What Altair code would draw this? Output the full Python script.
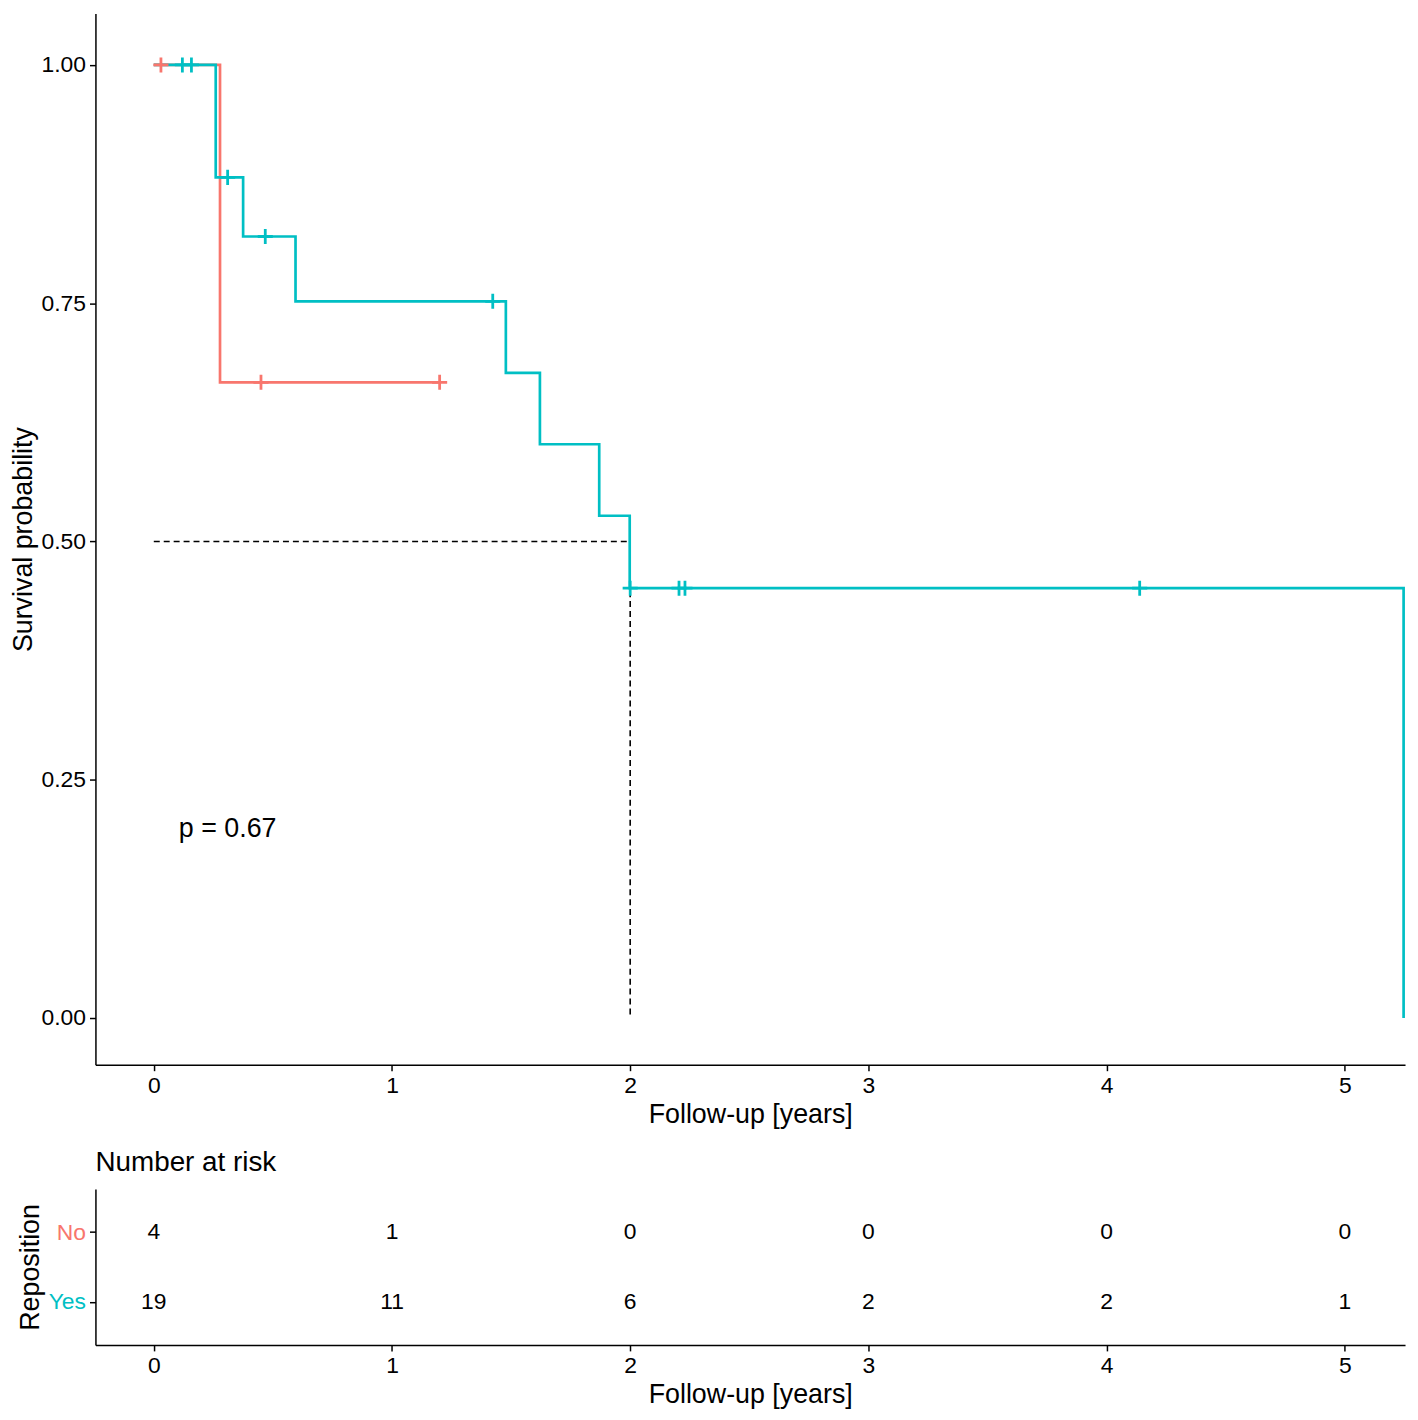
import altair as alt
import pandas as pd

# ---- data ----
groups = ["No", "Yes"]
colors = ["#F8766D", "#00BFC4"]

no_times = [0.0, 0.278, 1.20]
no_surv = [1.0, 0.667, 0.667]
yes_times = [0.0, 0.26, 0.375, 0.595, 1.478, 1.621, 1.87, 1.998, 5.247]
yes_surv = [1.0, 0.882, 0.820, 0.752, 0.677, 0.602, 0.527, 0.451, 0.0]

no_cens_t = [0.03, 0.45, 1.20]
no_cens_s = [1.0, 0.667, 0.667]
yes_cens_t = [0.12, 0.158, 0.31, 0.468, 1.423, 2.0, 2.205, 2.23, 4.139]
yes_cens_s = [1.0, 1.0, 0.882, 0.820, 0.752, 0.451, 0.451, 0.451, 0.451]

risk_times = [0, 1, 2, 3, 4, 5]
risk_no = [4, 1, 0, 0, 0, 0]
risk_yes = [19, 11, 6, 2, 2, 1]

median_time = 2.0
median_surv = 0.5
p_label = "p = 0.67"
p_pos = [0.105, 0.198]

y_ticks = [0.0, 0.25, 0.5, 0.75, 1.0]

# ---- tables ----
curve_df = pd.DataFrame(
    [{"group": "No", "time": t, "surv": s, "i": k} for k, (t, s) in enumerate(zip(no_times, no_surv))]
    + [{"group": "Yes", "time": t, "surv": s, "i": k} for k, (t, s) in enumerate(zip(yes_times, yes_surv))]
)
cens_df = pd.DataFrame(
    [{"group": "No", "time": t, "surv": s} for t, s in zip(no_cens_t, no_cens_s)]
    + [{"group": "Yes", "time": t, "surv": s} for t, s in zip(yes_cens_t, yes_cens_s)]
)
median_df = pd.DataFrame([
    {"x": 0.0, "y": median_surv, "x2": median_time, "y2": median_surv},
    {"x": median_time, "y": median_surv, "x2": median_time, "y2": 0.0},
])
p_df = pd.DataFrame([{"x": p_pos[0], "y": p_pos[1], "t": p_label}])
risk_df = pd.DataFrame(
    [{"group": "No", "time": t, "n": n} for t, n in zip(risk_times, risk_no)]
    + [{"group": "Yes", "time": t, "n": n} for t, n in zip(risk_times, risk_yes)]
)

W = 1318
H1 = 1058
H2 = 157

x_scale = alt.Scale(domain=[-0.245, 5.253], nice=False, zero=False)
y_scale = alt.Scale(domain=[-0.049, 1.054], nice=False, zero=False)
color_scale = alt.Scale(domain=groups, range=colors)

x_axis = alt.Axis(values=risk_times, format="d", title="Follow-up [years]")

lines = alt.Chart(curve_df).mark_line(interpolate="step-after", strokeWidth=2.7).encode(
    x=alt.X("time:Q", scale=x_scale, axis=x_axis),
    y=alt.Y("surv:Q", scale=y_scale,
            axis=alt.Axis(values=y_ticks, format=".2f", title="Survival probability")),
    color=alt.Color("group:N", scale=color_scale, legend=None),
    order="i:Q",
)

cens = alt.Chart(cens_df).mark_point(
    shape="M-1,0L1,0M0,-1L0,1", size=230, filled=False, strokeWidth=2.8, opacity=1
).encode(
    x=alt.X("time:Q", scale=x_scale),
    y=alt.Y("surv:Q", scale=y_scale),
    color=alt.Color("group:N", scale=color_scale, legend=None),
)

median = alt.Chart(median_df).mark_rule(color="black", strokeDash=[6, 4], strokeWidth=1.6).encode(
    x=alt.X("x:Q", scale=x_scale), x2="x2:Q",
    y=alt.Y("y:Q", scale=y_scale), y2="y2:Q",
)

ptext = alt.Chart(p_df).mark_text(align="left", baseline="middle", fontSize=27, color="black").encode(
    x=alt.X("x:Q", scale=x_scale), y=alt.Y("y:Q", scale=y_scale), text="t:N"
)

top = alt.layer(median, lines, cens, ptext).properties(width=W, height=H1)

bottom = alt.Chart(risk_df).mark_text(fontSize=23, color="black", baseline="middle").encode(
    x=alt.X("time:Q", scale=x_scale, axis=x_axis),
    y=alt.Y("group:N", scale=alt.Scale(type="point", padding=0.62, domain=groups),
            axis=alt.Axis(title="Reposition",
                          labelColor={"expr": "datum.value == 'No' ? '#F8766D' : '#00BFC4'"})),
    text="n:Q",
).properties(
    width=W, height=H2,
    title=alt.TitleParams("Number at risk", anchor="start", frame="group",
                          fontSize=28, fontWeight="normal", offset=12, color="black"),
)

chart = alt.vconcat(top, bottom, spacing=20).properties(padding=0).configure(
    font="Liberation Sans"
).configure_view(stroke="transparent").configure_axis(
    grid=False, domainColor="black", domainWidth=1.5, tickColor="black", tickWidth=1.5,
    tickSize=6, labelFontSize=23, labelColor="black", labelPadding=4,
    titleFontSize=27, titleFontWeight="normal", titleColor="black", titlePadding=4,
    labelFont="Liberation Sans", titleFont="Liberation Sans",
)

chart.save("out.html", embed_options={"renderer": "svg", "actions": False})
